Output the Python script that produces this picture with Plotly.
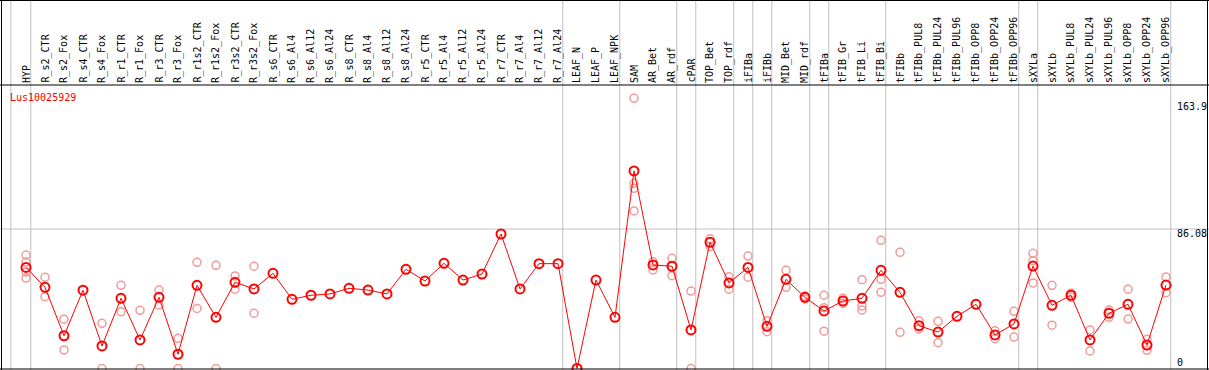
import plotly.graph_objects as go

categories = ["HYP", "R_s2_CTR", "R_s2_Fox", "R_s4_CTR", "R_s4_Fox", "R_r1_CTR", "R_r1_Fox",
              "R_r3_CTR", "R_r3_Fox", "R_r1s2_CTR", "R_r1s2_Fox", "R_r3s2_CTR", "R_r3s2_Fox",
              "R_s6_CTR", "R_s6_Al4", "R_s6_Al12", "R_s6_Al24", "R_s8_CTR", "R_s8_Al4", "R_s8_Al12",
              "R_s8_Al24", "R_r5_CTR", "R_r5_Al4", "R_r5_Al12", "R_r5_Al24", "R_r7_CTR", "R_r7_Al4",
              "R_r7_Al12", "R_r7_Al24", "LEAF_N", "LEAF_P", "LEAF_NPK", "SAM", "AR_Bet", "AR_rdf",
              "cPAR", "TOP_Bet", "TOP_rdf", "iFIBa", "iFIBb", "MID_Bet", "MID_rdf", "tFIBa",
              "tFIB_Gr", "tFIB_Li", "tFIB_Bi", "tFIBb", "tFIBb_PUL8", "tFIBb_PUL24", "tFIBb_PUL96",
              "tFIBb_OPP8", "tFIBb_OPP24", "tFIBb_OPP96", "sXYLa", "sXYLb", "sXYLb_PUL8",
              "sXYLb_PUL24", "sXYLb_PUL96", "sXYLb_OPP8", "sXYLb_OPP24", "sXYLb_OPP96"]

mean_values = [62.4, 50.1, 20.2, 48.3, 13.9, 43.3, 17.6, 43.9, 8.8, 51.3, 31.6, 53.2, 49.1,
               58.7, 42.7, 45.2, 46.0, 49.5, 48.4, 46.0, 61.2, 54.0, 64.9, 54.6, 58.3, 83.0,
               49.1, 64.7, 64.7, 0.0, 54.6, 31.6, 121.9, 63.9, 63.1, 23.8, 77.9, 52.8, 62.4,
               26.0, 55.0, 43.9, 35.5, 41.7, 43.3, 60.6, 47.0, 26.4, 22.5, 32.2, 39.6, 20.7,
               27.5, 63.2, 39.0, 45.2, 17.6, 34.1, 39.6, 14.5, 51.5]

replicate_values = [
    [70.0, 65.7, 59.5, 55.8], [56.3, 44.3], [30.4, 11.4], [], [27.9, 0.0], [51.3, 35.0],
    [35.9, 0.0], [48.4, 39.2], [18.6, 0.0], [65.5, 37.1], [63.7, 0.0], [57.1, 48.9],
    [63.1, 34.1], [], [], [], [], [], [], [], [], [], [], [], [], [], [], [], [], [], [], [],
    [166.7, 114.3, 111.2, 97.2], [65.9, 60.8], [68.0, 57.3], [47.8, 0.0], [80.1, 75.2],
    [56.6, 48.9], [69.4, 56.3], [29.5, 22.7], [60.6, 50.1], [44.7, 42.9],
    [45.2, 37.5, 23.0], [43.3, 40.2], [54.8, 38.6, 36.1], [79.1, 55.0, 47.0], [71.7, 22.3],
    [29.5, 24.4], [29.1, 15.9], [], [], [23.3, 18.4], [35.3, 19.4], [71.1, 66.5, 52.8],
    [51.3, 26.7], [46.5, 43.9], [23.8, 10.8], [36.1, 31.6], [48.9, 30.5], [18.0, 11.2],
    [56.5, 46.8]]

# group separators placed after these category indices
separator_after = [-1.05, 0, 28, 31, 34, 35, 37, 38, 39, 41, 42, 45, 52, 53, 60]
axis_labels = ["163.9", "86.08", "0"]
axis_label_values = [163.9, 86.08, 0.0]
gene_name = "Lus10025929"

W, H = 1209, 370
PX_PER_COL = 19.0
X0_PX = 26.0
Y0_PX = 368.5          # pixel row of value 0
PX_PER_UNIT = 139.5 / 86.08

x_range = [-X0_PX / PX_PER_COL, (W - X0_PX) / PX_PER_COL]
y_range = [-(H - Y0_PX) / PX_PER_UNIT, Y0_PX / PX_PER_UNIT]

rx, ry = [], []
for i, reps in enumerate(replicate_values):
    for v in reps:
        rx.append(i)
        ry.append(v)

fig = go.Figure()
fig.add_trace(go.Scatter(
    x=rx, y=ry, mode="markers", cliponaxis=False,
    marker=dict(symbol="circle-open", size=8, color="#f09a9a", line=dict(width=1.5, color="#f09a9a")),
    hoverinfo="skip", showlegend=False))
fig.add_trace(go.Scatter(
    x=list(range(len(categories))), y=mean_values, mode="lines+markers", cliponaxis=False,
    line=dict(color="#ff0000", width=1),
    marker=dict(symbol="circle-open", size=9, color="#ff0000", line=dict(width=2, color="#ff0000")),
    text=categories, showlegend=False))

shapes = []
for s in separator_after:
    xs = s + 0.25
    shapes.append(dict(type="line", xref="x", yref="paper", x0=xs, x1=xs, y0=0, y1=1,
                       line=dict(color="#c0c0c0", width=1), layer="below"))
# horizontal reference line at 86.08
shapes.append(dict(type="line", xref="paper", yref="y", x0=0, x1=1, y0=86.08, y1=86.08,
                   line=dict(color="#c0c0c0", width=1), layer="below"))


def px_x(p):
    return p / W


def px_y(p):
    return 1 - p / H


black = dict(color="#000000", width=1)
shapes += [
    dict(type="line", xref="paper", yref="paper", x0=0, x1=1, y0=px_y(85), y1=px_y(85), line=black, layer="above"),
    dict(type="line", xref="paper", yref="paper", x0=0, x1=1, y0=px_y(0.5), y1=px_y(0.5), line=black, layer="above"),
    dict(type="line", xref="paper", yref="paper", x0=0, x1=1, y0=px_y(369), y1=px_y(369), line=black, layer="above"),
    dict(type="line", xref="paper", yref="paper", x0=px_x(1.5), x1=px_x(1.5), y0=0, y1=1, line=black, layer="above"),
    dict(type="line", xref="paper", yref="paper", x0=px_x(1207.5), x1=px_x(1207.5), y0=0, y1=1, line=black, layer="above"),
]

mono = "DejaVu Sans Mono"
annotations = []
for i, c in enumerate(categories):
    annotations.append(dict(x=i, xref="x", y=px_y(85), yref="paper", text=c, textangle=-90,
                            showarrow=False, xanchor="center", yanchor="bottom",
                            font=dict(family=mono, size=10, color="#000000")))
for lab, v in zip(axis_labels, axis_label_values):
    ypx = Y0_PX - v * PX_PER_UNIT + 4
    ypx = min(ypx, 362)
    annotations.append(dict(x=px_x(1175), xref="paper", y=px_y(ypx), yref="paper", text=lab,
                            showarrow=False, xanchor="left", yanchor="middle",
                            font=dict(family=mono, size=10, color="#000000")))
annotations.append(dict(x=px_x(8), xref="paper", y=px_y(97.5), yref="paper", text=gene_name,
                        showarrow=False, xanchor="left", yanchor="middle",
                        font=dict(family=mono, size=10, color="#ff0000")))

fig.update_layout(
    width=W, height=H, margin=dict(l=0, r=0, t=0, b=0, pad=0),
    paper_bgcolor="#ffffff", plot_bgcolor="#ffffff",
    xaxis=dict(range=x_range, visible=False, fixedrange=True),
    yaxis=dict(range=y_range, visible=False, fixedrange=True),
    shapes=shapes, annotations=annotations, showlegend=False,
)
fig.write_html("out.html", config={"displayModeBar": False},
               post_script="document.body.style.margin='0px';document.body.style.overflow='hidden';")
